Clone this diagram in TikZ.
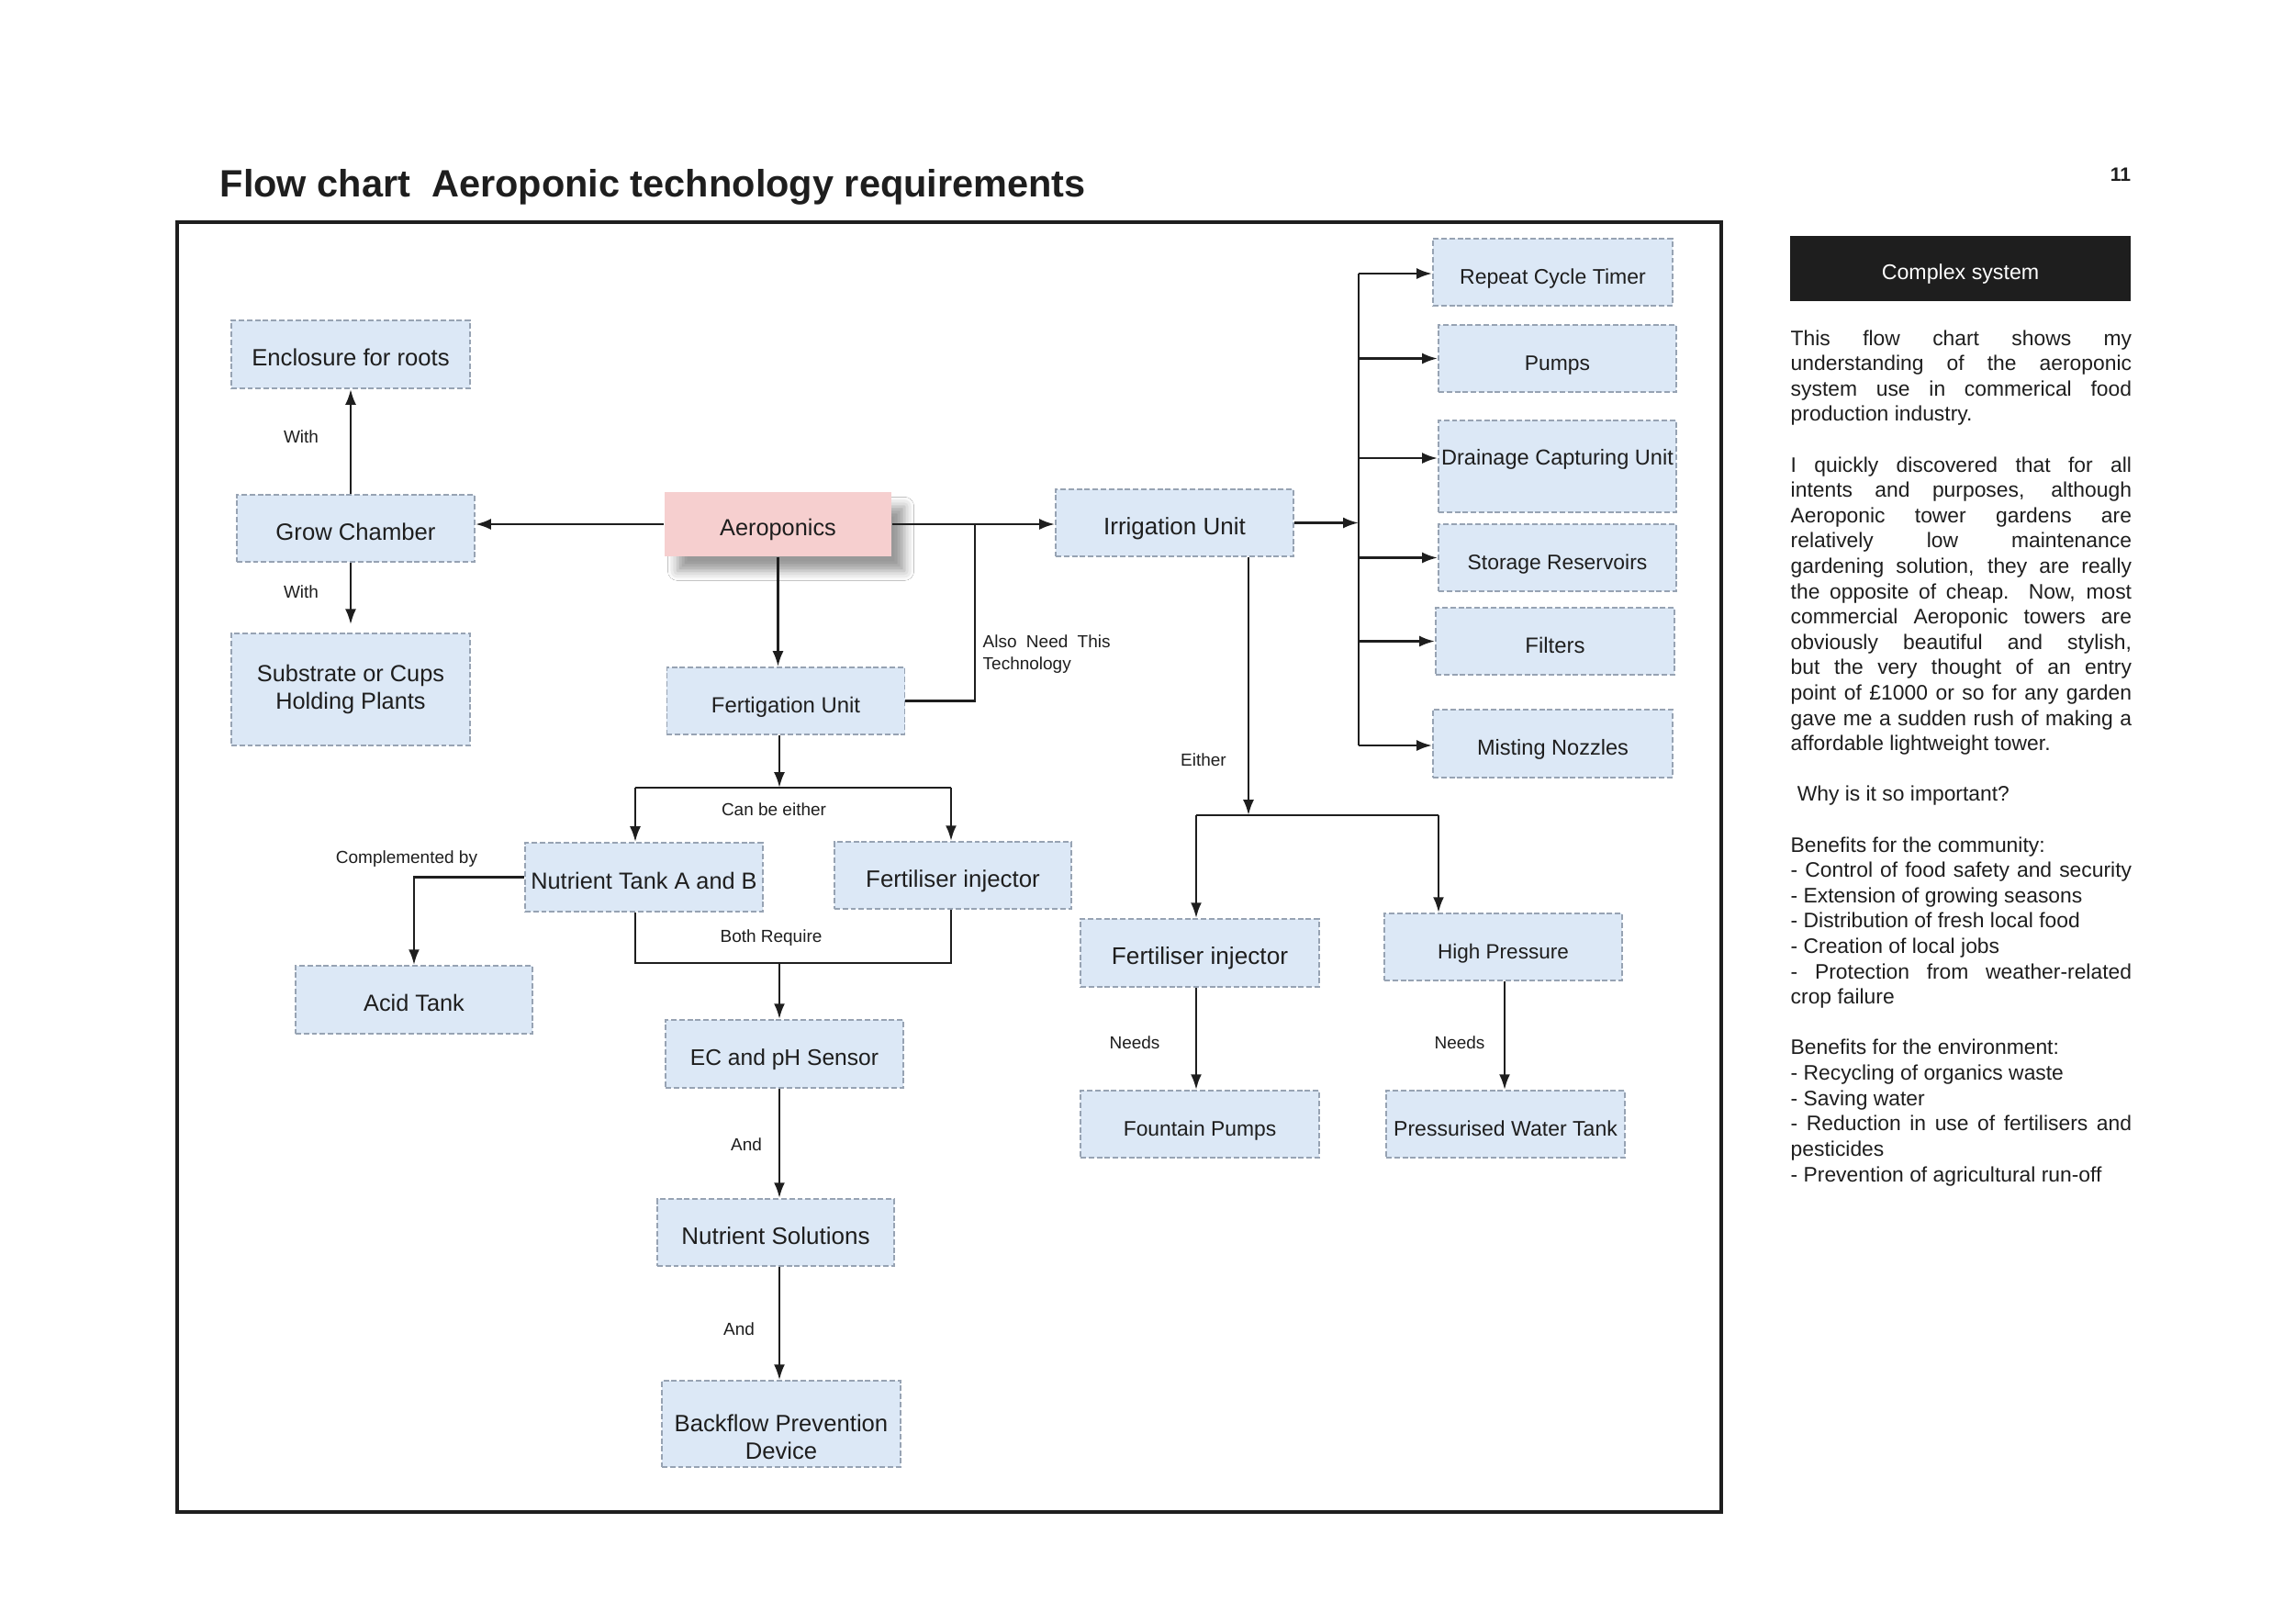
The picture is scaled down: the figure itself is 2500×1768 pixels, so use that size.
\documentclass[tikz,border=0pt]{standalone}
\usepackage{fontspec}
\setmainfont{Liberation Sans}
\usetikzlibrary{arrows.meta,shadows.blur,calc}
\definecolor{boxfill}{HTML}{DCE8F6}
\definecolor{boxline}{HTML}{97A3B3}
\definecolor{pinkfill}{HTML}{F6CFCF}
\definecolor{ink}{HTML}{1E1E1E}
\newlength\colw \setlength\colw{105.6pt}
\newcommand\JL[1]{\makebox[\colw][s]{#1}\\}
\newcommand\NL[1]{#1\\}
\begin{document}
\begin{tikzpicture}[x=0.01cm,y=-0.01cm,
 fs/.style={font=\fontsize{#1}{8.6}\selectfont},
 box/.style={draw=boxline, fill=boxfill, line width=0.5pt, dash pattern=on 1.7pt off 0.8pt,
   inner sep=0pt, align=center, fs=7, text=ink, text height=8.6pt, text depth=1.5pt,
   minimum width=2.59cm, minimum height=0.73cm},
 conn/.style={draw=ink, line width=0.75pt},
 arr/.style={conn, -{Latex[length=4.8pt,width=3.4pt]}},
 lbl/.style={font=\fontsize{5.4}{6.8}\selectfont, text=ink, inner sep=0pt},
 ]
\useasboundingbox (0,0) rectangle (2500,1768);
\fill[white] (0,0) rectangle (2500,1768);

% title and page number
\node[anchor=base west, inner sep=0, font=\fontsize{11.8}{14}\selectfont\bfseries, text=ink] (title) at (239,214) {Flow chart\ \ Aeroponic technology requirements};
\node[inner sep=0, font=\fontsize{6}{7}\selectfont\bfseries, text=ink] (pg) at (2310,190) {11};

% frame
\draw[line width=1pt, draw=ink] (193,242) rectangle (1875,1647);

% nodes
\node[box, fs=7.3, minimum width=2.60cm, minimum height=0.74cm] (enc) at (382,386) {Enclosure for roots};
\node[box, fs=7.3] (gc) at (387.5,575.5) {Grow Chamber};
\node[box, fs=7.2, text height=, text depth=, minimum width=2.60cm, minimum height=1.22cm] (sub) at (382,751) {Substrate or Cups\\Holding Plants};
\node[fill=pinkfill, minimum width=2.47cm, minimum height=0.70cm, inner sep=0pt,
  blur shadow={shadow xshift=4pt, shadow yshift=-4.5pt, shadow blur radius=3pt, shadow opacity=40},
  fs=7.2, text height=8.4pt, text depth=1.5pt, text=ink] (aero) at (847.5,571) {Aeroponics};
\node[box, fs=6.8] (fert) at (856,763.5) {Fertigation Unit};
\node[box, fs=7.4] (irr) at (1279.5,569.5) {Irrigation Unit};

\node[box, fs=6.55, minimum width=2.61cm] (rct) at (1691.5,296.5) {Repeat Cycle Timer};
\node[box, fs=6.5] (pumps) at (1696.5,390.5) {Pumps};
\node[box, fs=6.7, minimum height=1.00cm, text height=5pt, text depth=5.9pt] (drain) at (1696.5,508) {Drainage Capturing Unit};
\node[box, fs=6.5] (stor) at (1696.5,607.5) {Storage Reservoirs};
\node[box, fs=6.8, minimum width=2.60cm] (filt) at (1694,698.5) {Filters};
\node[box, fs=6.7, minimum width=2.61cm, minimum height=0.74cm] (mist) at (1691.5,810) {Misting Nozzles};

\node[box, fs=7.2, minimum height=0.75cm] (ntank) at (701.5,955.5) {Nutrient Tank A and B};
\node[box, fs=7.35, minimum width=2.58cm] (finjL) at (1038,953.5) {Fertiliser injector};
\node[box, fs=7.2, minimum width=2.58cm, minimum height=0.74cm] (acid) at (451,1089) {Acid Tank};
\node[box, fs=7.0, minimum height=0.74cm] (ec) at (854.5,1148) {EC and pH Sensor};
\node[box, fs=7.4, minimum width=2.58cm] (nsol) at (845,1342.5) {Nutrient Solutions};
\node[box, fs=7.3, text height=, text depth=, minimum width=2.60cm, minimum height=0.94cm] (back) at (851,1551)
  {\raisebox{-5pt}[\height][\depth]{\begin{tabular}{@{}c@{}}Backflow Prevention\\Device\end{tabular}}};

\node[box, fs=7.45, minimum width=2.60cm, minimum height=0.74cm] (finjR) at (1307,1038) {Fertiliser injector};
\node[box, fs=6.4] (hp) at (1637.5,1031.5) {High Pressure};
\node[box, fs=6.5, minimum width=2.60cm] (fpumps) at (1307,1224.5) {Fountain Pumps};
\node[box, fs=6.55, minimum width=2.60cm] (pwt) at (1640,1224.5) {Pressurised Water Tank};

% right column
\node[fill=ink, minimum width=3.71cm, minimum height=0.71cm, inner sep=0pt, text=white,
  font=\fontsize{6.6}{8}\selectfont, text height=8pt, text depth=1.4pt] (cs) at (2135.5,292.5) {Complex system};
\node[anchor=base west, inner sep=0, text=ink] (txt) at (1950,376) {\parbox[t]{\colw}{\fontsize{6.5}{7.85}\selectfont
\JL{This flow chart shows my}
\JL{understanding of the aeroponic}
\JL{system use in commerical food}
\NL{production industry.}
\mbox{}\\
\JL{I quickly discovered that for all}
\JL{intents and purposes, although}
\JL{Aeroponic tower gardens are}
\JL{relatively low maintenance}
\JL{gardening solution, they are really}
\JL{the opposite of cheap. Now, most}
\JL{commercial Aeroponic towers are}
\JL{obviously beautiful and stylish,}
\JL{but the very thought of an entry}
\JL{point of £1000 or so for any garden}
\JL{gave me a sudden rush of making a}
\NL{affordable lightweight tower.}
\mbox{}\\
\NL{\hspace*{2pt}Why is it so important?}
\mbox{}\\
\NL{Benefits for the community:}
\JL{- Control of food safety and security}
\NL{- Extension of growing seasons}
\NL{- Distribution of fresh local food}
\NL{- Creation of local jobs}
\JL{- Protection from weather-related}
\NL{crop failure}
\mbox{}\\
\NL{Benefits for the environment:}
\NL{- Recycling of organics waste}
\NL{- Saving water}
\JL{- Reduction in use of fertilisers and}
\NL{pesticides}
- Prevention of agricultural run-off}};

% coordinates
\coordinate (jn) at (1062,571);
\coordinate (bar1) at (849,858);
\coordinate (bL) at (692,858);
\coordinate (bR) at (1036,858);
\coordinate (cL) at (692,1049);
\coordinate (cR) at (1036,1049);
\coordinate (cM) at (849,1049);
\coordinate (tTop) at (1480,298);
\coordinate (tBot) at (1480,812);
\coordinate (drY) at (1480,499);
\coordinate (eJ) at (1360,888);
\coordinate (eL) at (1303,888);
\coordinate (eR) at (1567,888);
\coordinate (hpX) at (1639,0);

% left branch
\draw[arr] (gc.north -| enc.south) -- (enc.south);
\draw[arr] (gc.south -| enc.south) -- ([yshift=2.5pt]sub.north -| enc.south);
\draw[arr] (aero.west) -- (aero.west -| gc.east);
\node[lbl] (w1) at (328,476) {With};
\node[lbl] (w2) at (328,645) {With};

% aeroponics to irrigation and fertigation
\draw[arr] (aero.east) -- (aero.east -| irr.west);
\draw[conn] (fert.east) -| (jn);
\draw[arr] (aero.south) -- (aero.south |- fert.north);
\node[anchor=base west, inner sep=0] (also) at (1070,692) {\parbox[t]{40pt}{\fontsize{5.4}{6.8}\selectfont\color{ink}\makebox[39.5pt][s]{Also Need This}\\Technology}};

% fertigation split
\draw[arr] (bar1 |- fert.south) -- (bar1);
\draw[conn] (bL) -- (bR);
\draw[arr] (bL) -- (bL |- ntank.north);
\draw[arr] (bR) -- (bR |- finjL.north);
\node[lbl] (either1) at (843,882) {Can be either};

\draw[arr] (ntank.west) -| (acid.north);
\node[lbl] (comp) at (443,936) {Complemented by};

\draw[conn] (cL |- ntank.south) -- (cL) -- (cR) -- (cR |- finjL.south);
\draw[arr] (cM) -- (cM |- ec.north);
\node[lbl] (both) at (840,1022) {Both Require};

\draw[arr] (cM |- ec.south) -- (cM |- nsol.north);
\node[lbl] (and1) at (813,1247) {And};
\draw[arr, line width=0.6pt] (cM |- nsol.south) -- (cM |- back.north);
\node[lbl] (and2) at (805,1448) {And};

% irrigation trunk
\draw[arr] (irr.east) -- (irr.east -| tTop);
\draw[conn] (tTop) -- (tBot);
\draw[arr] (tTop) -- (tTop -| rct.west);
\draw[arr] (tTop |- pumps.west) -- (pumps.west);
\draw[arr] (drY) -- (drY -| drain.west);
\draw[arr] (tTop |- stor.west) -- (stor.west);
\draw[arr] (tTop |- filt.west) -- (filt.west);
\draw[arr] (tBot) -- (tBot -| mist.west);

% irrigation down
\draw[arr] (eJ |- irr.south) -- (eJ);
\node[lbl] (either2) at (1311,828) {Either};
\draw[conn] (eL) -- (eR);
\draw[arr] (eL) -- (eL |- finjR.north);
\draw[arr] (eR) -- (eR |- hp.north);
\draw[arr] (eL |- finjR.south) -- (eL |- fpumps.north);
\draw[arr] (hpX |- hp.south) -- (hpX |- pwt.north);
\node[lbl] (n1) at (1236,1136) {Needs};
\node[lbl] (n2) at (1590,1136) {Needs};
\end{tikzpicture}
\end{document}
